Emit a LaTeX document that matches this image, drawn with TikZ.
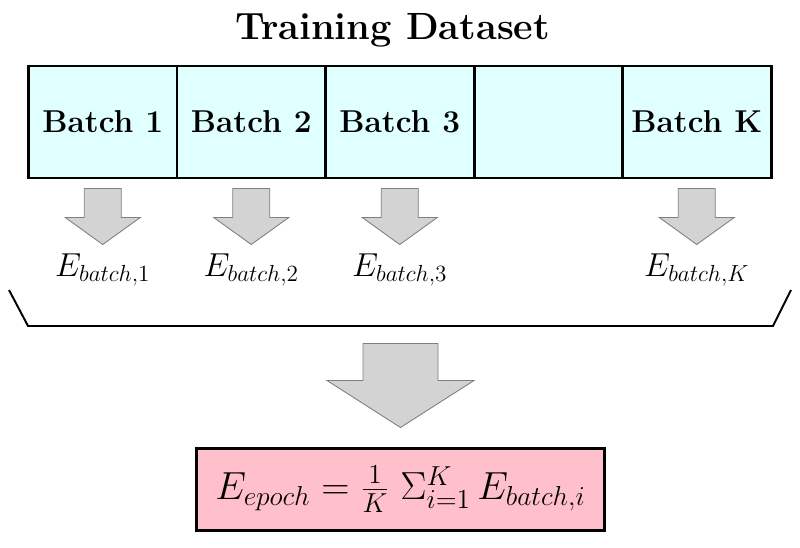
\RequirePackage{fix-cm}
\documentclass[tikz,border=0pt]{standalone}
\usepackage{amsmath}
\usepackage{tikz}
\usetikzlibrary{positioning}

\definecolor{batchcyan}{RGB}{224,255,255}
\definecolor{epochpink}{RGB}{255,192,203}
\definecolor{arrowgray}{RGB}{211,211,211}

\tikzset{
  batchcell/.style={draw, line width=1.7pt, fill=batchcyan, outer sep=0pt,
    minimum width=2.97cm, minimum height=2.24cm, inner sep=0pt,
    font=\fontsize{18}{22}\selectfont\bfseries},
  blockarrow/.style={fill=arrowgray, draw=gray, line width=0.5pt},
  errlabel/.style={anchor=base, inner sep=0pt, font=\fontsize{18.9}{22}\selectfont},
}

\begin{document}
\begin{tikzpicture}
\useasboundingbox (0,0) rectangle (16,10.94);

\node[anchor=base, font=\fontsize{21.6}{26}\selectfont\bfseries] (title) at (7.85,10.14) {Training Dataset};

% the batches
\node[batchcell] (b1) at (2.055,8.5) {Batch 1};
\node[batchcell, right=0pt of b1] (b2) {Batch 2};
\node[batchcell, right=0pt of b2] (b3) {Batch 3};
\node[batchcell, right=0pt of b3] (b4) {};
\node[batchcell, right=0pt of b4] (bk) {Batch K};

\foreach \b in {b1,b2,b3,bk}
  \filldraw[blockarrow] (\b.south) ++(-0.37,-0.21) -- ++(0,-0.58) -- ++(-0.38,0)
    -- ++(0.75,-0.54) -- ++(0.75,0.54) -- ++(-0.38,0) -- ++(0,0.58) -- cycle;

\node[errlabel] (e1) at (b1.south |- 0,5.4) {$E_{batch,1}$};
\node[errlabel] (e2) at (b2.south |- 0,5.4) {$E_{batch,2}$};
\node[errlabel] (e3) at (b3.south |- 0,5.4) {$E_{batch,3}$};
\node[errlabel] (ek) at (bk.south |- 0,5.4) {$E_{batch,K}$};

% bracket
\draw[line width=1.1pt] (0.18,5.14) -- (0.56,4.42) -- (15.46,4.42) -- (15.82,5.14);

% result
\node[draw, line width=1.7pt, fill=epochpink, minimum width=8.16cm, minimum height=1.64cm,
  inner sep=2pt, font=\fontsize{22.3}{26}\selectfont] (epoch) at (8.01,1.15)
  {$E_{epoch} = \frac{1}{K}\;\Sigma_{i=1}^{K}\, E_{batch,i}$};

\filldraw[blockarrow] (epoch.north) ++(0,0.39) -- ++(-1.47,0.94) -- ++(0.72,0) -- ++(0,0.74)
  -- ++(1.5,0) -- ++(0,-0.74) -- ++(0.72,0) -- cycle;
\end{tikzpicture}
\end{document}
